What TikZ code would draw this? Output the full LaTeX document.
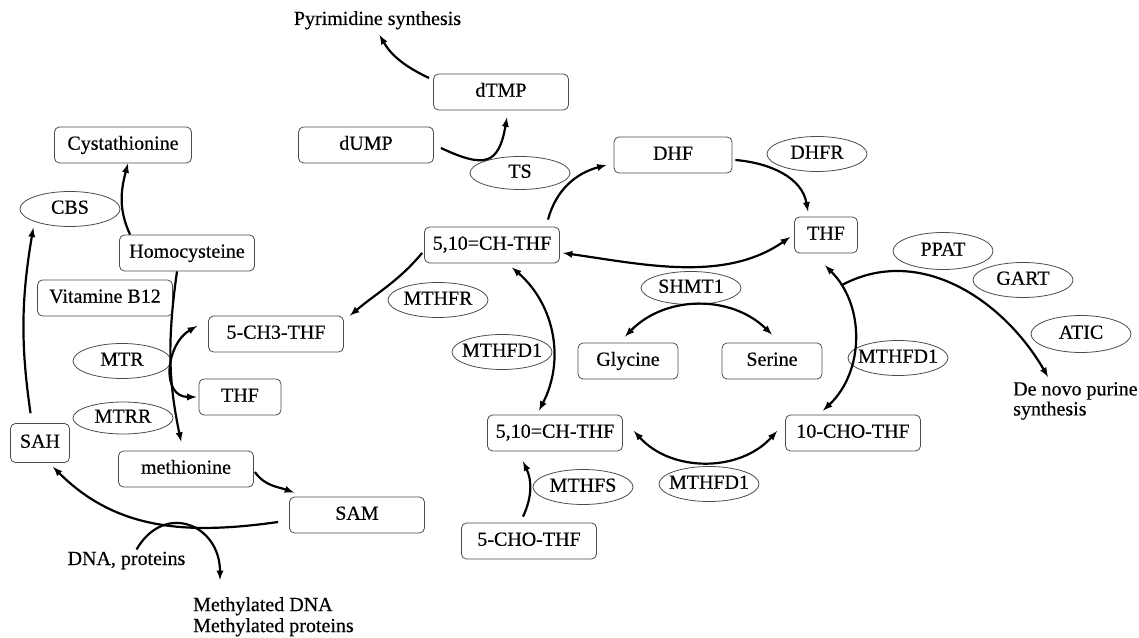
\documentclass[tikz,border=0pt]{standalone}
\usepackage{fontspec}
\setmainfont{Liberation Serif}[FakeBold=0.4]
\usetikzlibrary{shapes.geometric}

\tikzset{
  box/.style={draw=black!70, line width=0.8pt, rounded corners=5pt,
    minimum width=135pt, minimum height=36pt, inner sep=0pt,
    text height=13.5pt, text depth=4pt},
  enz/.style={ellipse, draw=black!70, line width=0.8pt,
    minimum width=100pt, minimum height=35pt, inner xsep=-5pt, inner ysep=0pt,
    text height=13.5pt, text depth=4pt},
  lbl/.style={inner sep=2pt},
  flow/.style={line width=2.2pt, -latex},
  both/.style={line width=2.2pt, latex-latex},
}

\begin{document}
\begin{tikzpicture}[x=1pt, y=1pt, font=\fontsize{20}{22}\selectfont]
          \useasboundingbox (0,0) rectangle (1139,637);

          \node[box] (dtmp) at (501,545) {dTMP};
          \node[box] (dump) at (366,492) {dUMP};
          \node[box, minimum width=137pt] (cysta) at (123,492) {Cystathionine};
          \node[box, minimum width=118pt] (dhf) at (673,482) {DHF};
          \node[box] (mthfA) at (492,392) {5,10=CH-THF};
          \node[box, minimum width=63pt] (thfR) at (826,402) {THF};
          \node[box] (hcy) at (187,384) {Homocysteine};
          \node[box] (vitb) at (105,339) {Vitamine B12};
          \node[box] (ch3thf) at (276,303) {5-CH3-THF};
          \node[box, minimum width=82pt] (thfL) at (240,240) {THF};
          \node[box, minimum width=59pt, minimum height=39pt] (sah) at (40,194) {SAH};
          \node[box] (met) at (186,168) {methionine};
          \node[box] (sam) at (357,122) {SAM};
          \node[box] (chothf) at (529,96) {5-CHO-THF};
          \node[box] (mthfB) at (555,204) {5,10=CH-THF};
          \node[box, minimum width=100pt] (gly) at (628,276) {Glycine};
          \node[box, minimum width=100pt] (ser) at (772,276) {Serine};
          \node[box] (tencho) at (853,204) {10-CHO-THF};

          \node[enz] (cbs) at (70,428) {CBS};
          \node[enz, minimum width=98pt] (mtr) at (122,276) {MTR};
          \node[enz, minimum height=32pt] (mtrr) at (123,219) {MTRR};
          \node[enz, minimum height=33pt] (ts) at (520,464) {TS};
          \node[enz] (dhfr) at (817,483) {DHFR};
          \node[enz] (mthfr) at (438,337) {MTHFR};
          \node[enz, minimum height=33pt] (shmt) at (691,349) {SHMT1};
          \node[enz] (mthfdA) at (502,285) {MTHFD1};
          \node[enz] (mthfs) at (583,150) {MTHFS};
          \node[enz] (mthfdB) at (709,153) {MTHFD1};
          \node[enz] (mthfdC) at (898,279) {MTHFD1};
          \node[enz, minimum height=37pt] (ppat) at (943,386) {PPAT};
          \node[enz] (gart) at (1023,357) {GART};
          \node[enz, minimum height=37pt] (atic) at (1081,303) {ATIC};

          \node[lbl, anchor=base] (pyrim) at (377.5,612) {Pyrimidine synthesis};
          \node[lbl, anchor=base] (dnaprot) at (126.5,72) {DNA, proteins};
          \node[lbl, anchor=north west, align=left] (methyl) at (191,42) {Methylated DNA\\[-1pt]Methylated proteins};
          \node[lbl, anchor=north west, align=left] (denovo) at (1011,257) {De novo purine\\[-2pt]synthesis};

          \coordinate (branch) at (842,352);
          \coordinate (purine) at (1048,260);

          \draw[flow] ([xshift=11]hcy.north west) to[out=115, in=-105] ([xshift=5]cysta.south);
          \draw[flow, shorten <=10pt, shorten >=6pt] ([xshift=-8]sah.north) to[bend left=9] (cbs.south west);
          \draw[flow, shorten >=9pt] ([xshift=-10]hcy.south) to[bend right=10] ([xshift=-3]met.north);
          \draw[both] ([shift={(-11,8)}]ch3thf.west) to[out=210, in=180, looseness=1.3] ([xshift=-2]thfL.west);
          \draw[flow] ([shift={(1,-3)}]met.east) to[out=-55, in=160] ([shift={(5,4)}]sam.north west);
          \draw[flow] ([shift={(-11,-7)}]sam.west) to[out=188, in=-45] ([shift={(13,-4)}]sah.south);
          \draw[flow] ([xshift=10]dnaprot.north) to[out=60, in=90, looseness=1.6] ([shift={(29,15)}]methyl.north west);

          \draw[flow] ([shift={(-2,-8)}]mthfA.west) to[out=230, in=40] ([xshift=6]ch3thf.north east);
          \draw[flow] ([shift={(56,7)}]mthfA.north) to[out=75, in=195] ([shift={(-7,-10)}]dhf.west);
          \draw[flow] ([shift={(7,-3)}]dump.east) to[out=-25, in=-100, looseness=1.7] ([shift={(6,-7)}]dtmp.south);
          \draw[flow, shorten >=4pt] ([shift={(-4,14)}]dtmp.west) to[out=155, in=-60] (pyrim.south);
          \draw[flow] ([shift={(3,-5)}]dhf.east) to[out=-5, in=100] ([shift={(-18,5)}]thfR.north);
          \draw[both] ([shift={(3,-8)}]mthfA.east) to[out=-8, in=215, looseness=0.9] ([shift={(-4,-2)}]thfR.west);

          \draw[both] ([shift={(-3,6)}]gly.north) to[bend left=45] ([yshift=8]ser.north);
          \draw[both] ([shift={(20,-4)}]mthfA.south) to[bend left=38] ([shift={(-16,4)}]mthfB.north);
          \draw[flow] ([shift={(-6,6)}]chothf.north) to[bend right=25] ([shift={(-32,-10)}]mthfB.south);
          \draw[both] ([shift={(11,2)}]mthfB.east) to[bend right=48] ([shift={(-8,2)}]tencho.west);
          \draw[both] ([shift={(-1,-12)}]thfR.south) to[bend left=46] ([shift={(-30,4)}]tencho.north);
          \draw[flow] (branch) to[out=28, in=120] (purine);
      \end{tikzpicture}
\end{document}
